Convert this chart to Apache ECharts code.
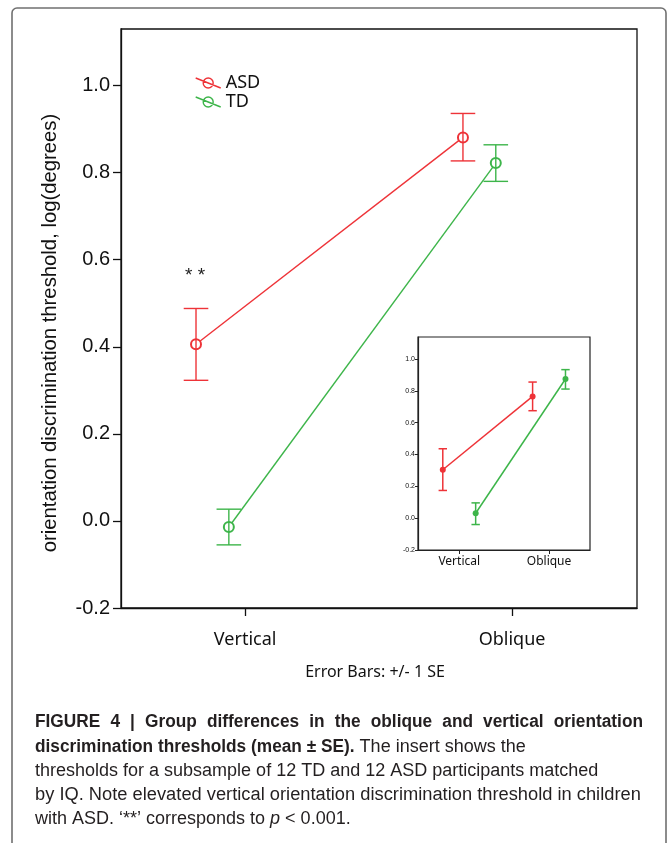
<!DOCTYPE html>
<html>
<head>
<meta charset="utf-8">
<script src="https://cdn.jsdelivr.net/npm/echarts@6/dist/echarts.min.js"></script>
<style>
  html, body { margin: 0; padding: 0; background: #fff; }
  #chart { width: 668px; height: 843px; }
</style>
</head>
<body>
<div id="chart"></div>
<script>
// categories and values
const conditions = ['Vertical', 'Oblique'];
const groups = ['ASD', 'TD'];
const yTicks = [-0.2, 0.0, 0.2, 0.4, 0.6, 0.8, 1.0];

const asdMean = [0.406, 0.881];
const asdUpper = [0.488, 0.936];
const asdLower = [0.323, 0.827];
const tdMean = [-0.014, 0.822];
const tdUpper = [0.027, 0.864];
const tdLower = [-0.055, 0.780];

// insert: IQ-matched subsample
const subAsdMean = [0.304, 0.765];
const subAsdUpper = [0.436, 0.855];
const subAsdLower = [0.174, 0.675];
const subTdMean = [0.031, 0.874];
const subTdUpper = [0.096, 0.933];
const subTdLower = [-0.040, 0.811];

const RED = '#ee3338';
const GREEN = '#3db54a';
const INK = '#231f20';
const catPos = conditions.map((c, i) => i + 1);

// horizontal offsets of each group from the category tick
const mainShift = { ASD: -0.184, TD: -0.061 };
const subShift = { ASD: -0.183, TD: 0.183 };

function points(mean, shift) {
  return mean.map((v, i) => [catPos[i] + shift, v]);
}
function bars(upper, lower, shift) {
  return upper.map((v, i) => [catPos[i] + shift, v, lower[i]]);
}

function errorBars(capHalf, color, width) {
  return function (params, api) {
    const x = api.value(0);
    const top = api.coord([x, api.value(1)]);
    const bot = api.coord([x, api.value(2)]);
    const style = { stroke: color, lineWidth: width };
    return {
      type: 'group',
      children: [
        { type: 'line', shape: { x1: top[0], y1: top[1], x2: bot[0], y2: bot[1] }, style },
        { type: 'line', shape: { x1: top[0] - capHalf, y1: top[1], x2: top[0] + capHalf, y2: top[1] }, style },
        { type: 'line', shape: { x1: bot[0] - capHalf, y1: bot[1], x2: bot[0] + capHalf, y2: bot[1] }, style }
      ]
    };
  };
}

// caption helpers
const measureCtx = document.createElement('canvas').getContext('2d');
function textWidth(str, font) {
  measureCtx.font = font;
  return measureCtx.measureText(str).width;
}
function captionText(str, font, x, y, scale) {
  return {
    type: 'text', x: x, y: y, scaleX: scale || 1,
    style: { text: str, font: font, fill: INK, verticalAlign: 'middle', textVerticalAlign: 'middle' }
  };
}
function justifiedLine(str, font, scale, x0, x1, y) {
  const words = str.split(' ');
  const widths = words.map(w => textWidth(w, font) * scale);
  const gap = (x1 - x0 - widths.reduce((a, b) => a + b, 0)) / (words.length - 1);
  let x = x0;
  return words.map((w, i) => {
    const el = captionText(w, font, x, y, scale);
    x += widths[i] + gap;
    return el;
  });
}

const BOLD = 'bold 18px "Liberation Sans"';
const REG = '18px "Liberation Sans"';
const boldScale = 0.96;
const line2Bold = 'discrimination thresholds (mean \u00b1 SE).';
const line2BoldEnd = 35 + textWidth(line2Bold, BOLD) * boldScale + textWidth(' ', REG);

const chart = echarts.init(document.getElementById('chart'), null, { renderer: 'canvas' });

const legendIcon = 'path://M0,0L25,10M17.5,5A5,5,0,1,1,7.5,5A5,5,0,1,1,17.5,5';

const option = {
  animation: false,
  backgroundColor: '#fff',
  grid: [
    { left: 121, top: 29, width: 516, height: 579, show: true, borderColor: '#111', borderWidth: 1.3 },
    { left: 418, top: 337, width: 172, height: 213, show: true, backgroundColor: '#fff', borderColor: '#222', borderWidth: 1.2, z: 5 }
  ],
  xAxis: [
    {
      type: 'value', gridIndex: 0, min: 0.535, max: 2.468,
      axisLine: { show: true, onZero: false, lineStyle: { color: '#111', width: 1.3 } },
      axisTick: { show: true, customValues: catPos, length: 8, lineStyle: { color: '#111', width: 1.3 } },
      axisLabel: {
        customValues: catPos,
        formatter: v => conditions[Math.round(v) - 1],
        fontFamily: 'Noto Sans', fontSize: 18, color: '#111', margin: 23
      },
      splitLine: { show: false }
    },
    {
      type: 'value', gridIndex: 1, min: 0.541, max: 2.456, z: 6,
      axisLine: { show: true, onZero: false, lineStyle: { color: '#222', width: 1.2 } },
      axisTick: { show: true, customValues: catPos, length: 4, lineStyle: { color: '#222', width: 1 } },
      axisLabel: {
        customValues: catPos,
        formatter: v => conditions[Math.round(v) - 1],
        fontFamily: 'Noto Sans', fontSize: 12, color: '#111', margin: 6
      },
      splitLine: { show: false }
    }
  ],
  yAxis: [
    {
      type: 'value', gridIndex: 0, min: -0.2, max: 1.13,
      axisLine: { show: true, onZero: false, lineStyle: { color: '#111', width: 1.3 } },
      axisTick: { show: true, customValues: yTicks, length: 8, lineStyle: { color: '#111', width: 1.3 } },
      axisLabel: {
        customValues: yTicks,
        formatter: v => v.toFixed(1),
        fontFamily: 'Liberation Sans', fontSize: 20, color: '#111', margin: 11
      },
      splitLine: { show: false }
    },
    {
      type: 'value', gridIndex: 1, min: -0.2, max: 1.138, z: 6,
      axisLine: { show: true, onZero: false, lineStyle: { color: '#222', width: 1.2 } },
      axisTick: { show: true, customValues: yTicks, length: 3, lineStyle: { color: '#222', width: 1 } },
      axisLabel: {
        customValues: yTicks,
        formatter: v => v.toFixed(1),
        fontFamily: 'Liberation Sans', fontSize: 7, color: '#111', margin: 3
      },
      splitLine: { show: false }
    }
  ],
  legend: {
    left: 190, top: 69, orient: 'vertical',
    itemWidth: 25, itemHeight: 10, itemGap: 1,
    selectedMode: false,
    textStyle: { fontFamily: 'Noto Sans', fontSize: 18, color: '#111' },
    data: [
      { name: 'ASD', icon: legendIcon, itemStyle: { color: 'rgba(0,0,0,0)', borderColor: RED, borderWidth: 1.4 } },
      { name: 'TD', icon: legendIcon, itemStyle: { color: 'rgba(0,0,0,0)', borderColor: GREEN, borderWidth: 1.4 } }
    ]
  },
  series: [
    {
      name: 'ASD', type: 'line', xAxisIndex: 0, yAxisIndex: 0, z: 2,
      data: points(asdMean, mainShift.ASD),
      symbol: 'emptyCircle', symbolSize: 10,
      lineStyle: { color: RED, width: 1.4 },
      itemStyle: { color: RED, borderWidth: 1.3 }
    },
    {
      name: 'TD', type: 'line', xAxisIndex: 0, yAxisIndex: 0, z: 2,
      data: points(tdMean, mainShift.TD),
      symbol: 'emptyCircle', symbolSize: 10,
      lineStyle: { color: GREEN, width: 1.4 },
      itemStyle: { color: GREEN, borderWidth: 1.3 }
    },
    {
      name: 'ASD error', type: 'custom', xAxisIndex: 0, yAxisIndex: 0, z: 3,
      renderItem: errorBars(12.3, RED, 1.4),
      encode: { x: 0, y: [1, 2] },
      data: bars(asdUpper, asdLower, mainShift.ASD)
    },
    {
      name: 'TD error', type: 'custom', xAxisIndex: 0, yAxisIndex: 0, z: 3,
      renderItem: errorBars(12.3, GREEN, 1.4),
      encode: { x: 0, y: [1, 2] },
      data: bars(tdUpper, tdLower, mainShift.TD)
    },
    {
      name: 'ASD matched', type: 'line', xAxisIndex: 1, yAxisIndex: 1, z: 7,
      data: points(subAsdMean, subShift.ASD),
      symbol: 'circle', symbolSize: 6,
      lineStyle: { color: RED, width: 1.5 },
      itemStyle: { color: RED }
    },
    {
      name: 'TD matched', type: 'line', xAxisIndex: 1, yAxisIndex: 1, z: 7,
      data: points(subTdMean, subShift.TD),
      symbol: 'circle', symbolSize: 6,
      lineStyle: { color: GREEN, width: 1.5 },
      itemStyle: { color: GREEN }
    },
    {
      name: 'ASD matched error', type: 'custom', xAxisIndex: 1, yAxisIndex: 1, z: 8,
      renderItem: errorBars(4.2, RED, 1.5),
      encode: { x: 0, y: [1, 2] },
      data: bars(subAsdUpper, subAsdLower, subShift.ASD)
    },
    {
      name: 'TD matched error', type: 'custom', xAxisIndex: 1, yAxisIndex: 1, z: 8,
      renderItem: errorBars(4.2, GREEN, 1.5),
      encode: { x: 0, y: [1, 2] },
      data: bars(subTdUpper, subTdLower, subShift.TD)
    }
  ],
  graphic: [
    {
      type: 'rect', silent: true, z: -1,
      shape: { x: 12, y: 8, width: 654, height: 900, r: 5 },
      style: { fill: 'none', stroke: '#707070', lineWidth: 1.6 }
    },
    {
      type: 'text', x: 50, y: 333, rotation: Math.PI / 2,
      style: {
        text: 'orientation discrimination threshold, log(degrees)',
        font: '20.3px "Liberation Sans"', fill: '#111',
        align: 'center', verticalAlign: 'middle', textAlign: 'center', textVerticalAlign: 'middle'
      }
    },
    {
      type: 'text', x: 195, y: 276,
      style: {
        text: '* *', font: '19px "Liberation Sans"', fill: '#222',
        align: 'center', verticalAlign: 'middle', textAlign: 'center', textVerticalAlign: 'middle'
      }
    },
    {
      type: 'text', x: 375, y: 672,
      style: {
        text: 'Error Bars: +/- 1 SE', font: '16px "Noto Sans"', fill: '#111',
        align: 'center', verticalAlign: 'middle', textAlign: 'center', textVerticalAlign: 'middle'
      }
    }
  ]
    .concat(justifiedLine('FIGURE 4 | Group differences in the oblique and vertical orientation', BOLD, boldScale, 35, 643, 722))
    .concat([
      captionText(line2Bold, BOLD, 35, 747, boldScale),
      captionText('The insert shows the', REG, line2BoldEnd, 747),
      captionText('thresholds for a subsample of 12 TD and 12 ASD participants matched', REG, 35, 771),
      captionText('by IQ. Note elevated vertical orientation discrimination threshold in children', REG, 35, 795, 1.016),
      {
        type: 'text', x: 35, y: 819,
        style: {
          text: 'with ASD. \u2018**\u2019 corresponds to {i|p} < 0.001.',
          font: REG, fill: INK, verticalAlign: 'middle', textVerticalAlign: 'middle',
          rich: { i: { fontStyle: 'italic', fontSize: 18, fontFamily: 'Liberation Sans', fill: INK } }
        }
      }
    ])
};

chart.setOption(option);
</script>
</body>
</html>
